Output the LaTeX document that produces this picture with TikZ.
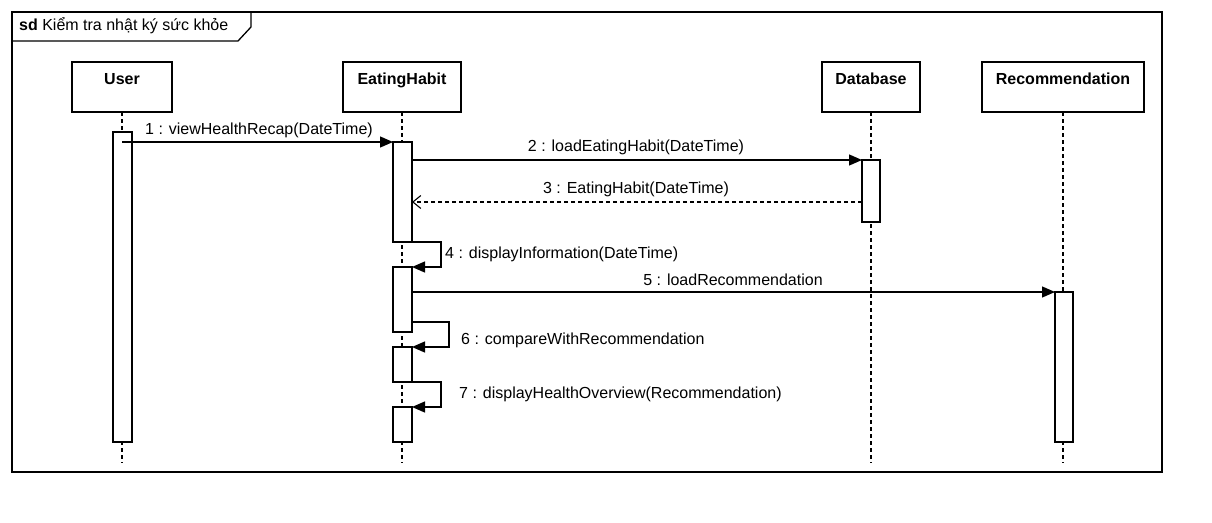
\documentclass[tikz,border=0pt]{standalone}
\usepackage{fontspec}
\setmainfont{Liberation Sans}
\usetikzlibrary{arrows.meta,calc}
\begin{document}
\begin{tikzpicture}[x=1pt,y=-1pt,
  every node/.style={font=\fontsize{16}{19}\selectfont},
  head/.style={draw,line width=1.3pt,fill=white,minimum height=50pt,inner sep=0pt,outer sep=0pt},
  headlbl/.style={anchor=north,yshift=-10pt,text height=12pt,text depth=3pt,inner sep=0pt,font=\fontsize{16}{19}\selectfont\bfseries},
  act/.style={draw,line width=1.3pt,fill=white,minimum width=19pt,inner sep=0pt,outer sep=0pt},
  lifeline/.style={line width=1.3pt,dash pattern=on 4pt off 3pt},
  msg/.style={line width=1.3pt,-{Triangle[length=13pt,width=11pt]}},
  ret/.style={line width=1.3pt,dash pattern=on 4pt off 3pt,-{Straight Barb[length=8pt,width=13pt,line width=1.1pt]}},
  lbl/.style={inner sep=0pt}
]
\useasboundingbox (0,0) rectangle (1212,522);
\fill[white] (0,0) rectangle (1212,522);
% frame
\draw[line width=1.3pt] (12,12) rectangle (1162,472);
\draw[line width=1.3pt] (12,41) -- (238,41) -- (251,27) -- (251,12);
\node[lbl,anchor=west] (title) at (19,26) {\textbf{sd}\ Kiểm tra nhật ký sức khỏe};
% heads
\node[head,minimum width=100pt,label={[headlbl]north:User}] (user) at (122,87) {};
\node[head,minimum width=118pt,label={[headlbl]north:EatingHabit}] (eat) at (402,87) {};
\node[head,minimum width=98pt,label={[headlbl]north:Database}] (dbh) at (871,87) {};
\node[head,minimum width=162pt,label={[headlbl]north:Recommendation}] (rech) at (1063,87) {};
% lifeline ends
\coordinate (uend) at (122,463);
\coordinate (eend) at (402,463);
\coordinate (dend) at (871,463);
\coordinate (rend) at (1063,463);
\draw[lifeline] (user.south) -- (uend);
\draw[lifeline] (eat.south) -- (eend);
\draw[lifeline] (dbh.south) -- (dend);
\draw[lifeline] (rech.south) -- (rend);
% activations
\node[act,minimum height=310pt] (ua) at (122.5,287) {};
\node[act,minimum height=100pt] (ea1) at (402.5,192) {};
\node[act,minimum height=65pt] (ea2) at (402.5,299.5) {};
\node[act,minimum height=35pt] (ea3) at (402.5,364.5) {};
\node[act,minimum height=35pt] (ea4) at (402.5,424.5) {};
\node[act,minimum height=62pt,minimum width=18pt] (db) at (871,191) {};
\node[act,minimum height=150pt,minimum width=18pt] (ra) at (1064,367) {};
% messages
\draw[msg] (user.south |- ea1.north) -- (ea1.north west);
\node[lbl] (l1) at (259,130) {1 : viewHealthRecap(DateTime)};
\draw[msg] (ea1.east |- db.north) -- (db.north west);
\node[lbl] (l2) at (636,147) {2 : loadEatingHabit(DateTime)};
\coordinate (m3) at (0,202);
\draw[ret] (db.west |- m3) -- (ea1.east |- m3);
\node[lbl] (l3) at (636,189) {3 : EatingHabit(DateTime)};
\draw[msg] (ea1.south east) -- ++(29,0) |- (ea2.north east);
\node[lbl,anchor=west] (l4) at (445,254) {4 : displayInformation(DateTime)};
\draw[msg] (ea2.east |- ra.north) -- (ra.north west);
\node[lbl] (l5) at (733,280) {5 : loadRecommendation};
\coordinate (m6) at (0,322);
\draw[msg] (ea2.east |- m6) -- ++(37,0) |- (ea3.north east);
\node[lbl,anchor=west] (l6) at (461,340) {6 : compareWithRecommendation};
\draw[msg] (ea3.south east) -- ++(29,0) |- (ea4.north east);
\node[lbl,anchor=west] (l7) at (459,394) {7 : displayHealthOverview(Recommendation)};
\end{tikzpicture}
\end{document}
